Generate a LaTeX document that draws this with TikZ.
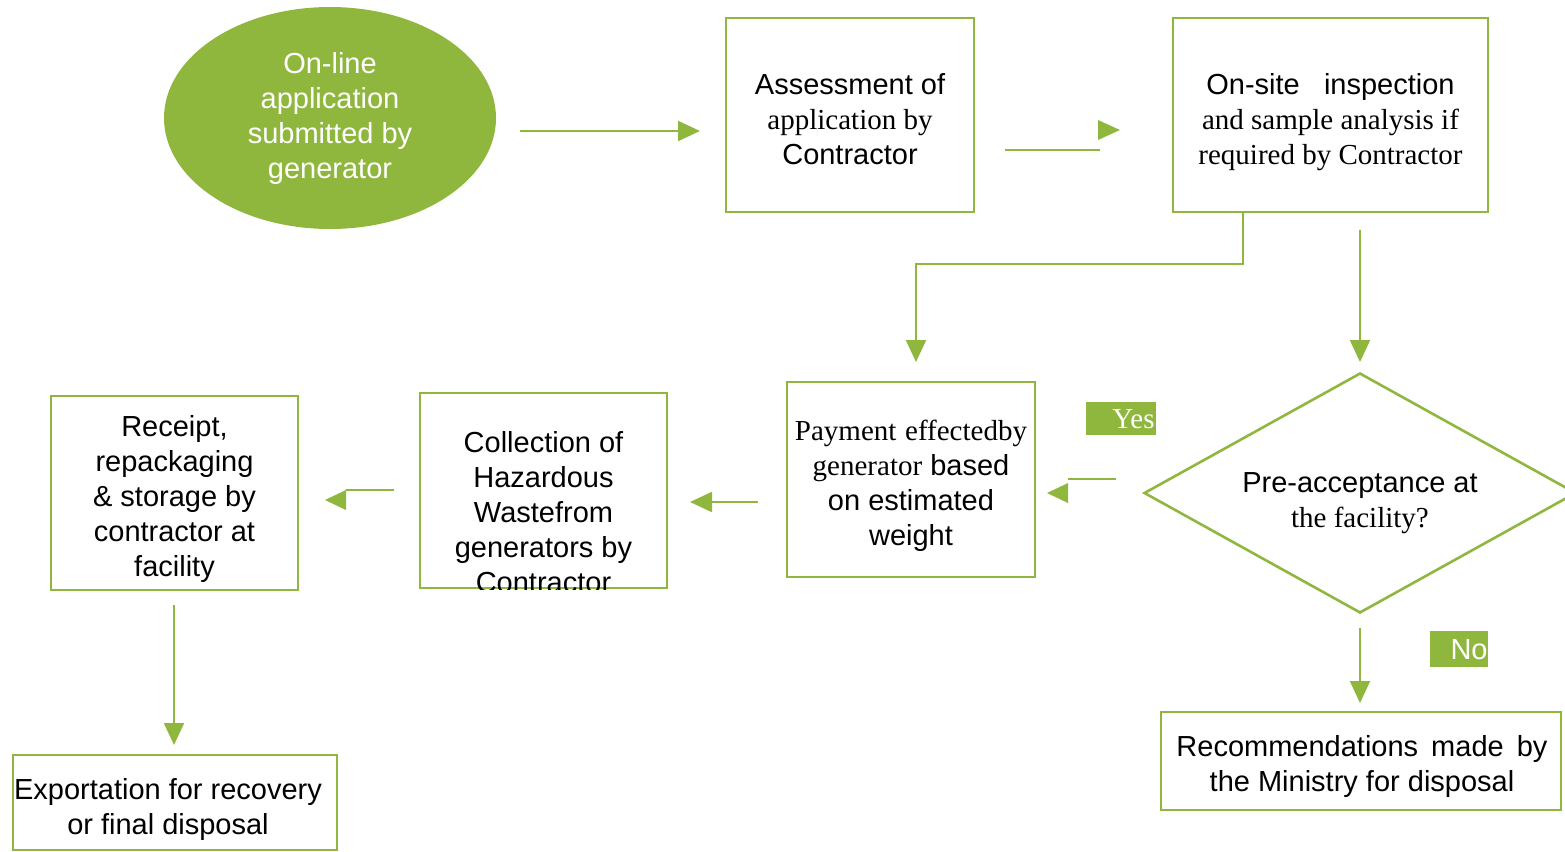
\documentclass[tikz,border=0pt]{standalone}
\usepackage{fontspec}
\setmainfont{Liberation Serif}
\setsansfont{Liberation Sans}
\usetikzlibrary{shapes.geometric,arrows.meta,calc}
\definecolor{grn}{RGB}{143,183,62}
\newcommand{\fsz}{\fontsize{14.5}{17.5}\selectfont}
\tikzset{
  gbox/.style={draw=grn, line width=1.3pt, rectangle, inner sep=0pt, align=center, font=\sffamily\fsz},
  gtext/.style={inner sep=0pt, align=center, font=\sffamily\fsz},
  conn/.style={draw=grn, line width=1.1pt},
  arr/.style={conn, -{Triangle[length=11pt,width=10pt]}},
  lonehead/.style={fill=grn},
  tag/.style={fill=grn, text=white, inner sep=0pt, font=\fsz},
}
\begin{document}
\begin{tikzpicture}[x=0.5pt,y=-0.5pt]
\useasboundingbox (0,0) rectangle (1565,852);

% nodes
\node[ellipse, fill=grn, minimum width=166pt, minimum height=111pt, inner sep=0pt,
      text=white, align=center, font=\sffamily\fsz] (ell) at (330,118)
  {On-line\\application\\submitted by\\generator};

\node[gbox, minimum width=124pt, minimum height=97pt] (assess) at (850,115) {};
\node[gtext] (assesst) at (850,119)
  {Assessment of\\{\rmfamily application by}\\Contractor};

\node[gbox, minimum width=157.5pt, minimum height=97pt] (onsite) at (1330.5,115) {};
\node[gtext] (onsitet) at (1330.5,122)
  {On-site\ \ \ inspection\\{\rmfamily and sample analysis if}\\{\rmfamily required by Contractor}};

\node[diamond, aspect=1.8, draw=grn, line width=1.3pt, minimum width=216pt, minimum height=120pt,
      inner sep=0pt] (dia) at (1360,493) {};
\node[gtext] (diat) at (1360,503) {Pre-acceptance at\\{\rmfamily the facility?}};

\node[gbox, minimum width=124pt, minimum height=97.5pt] (pay) at (911,479.5) {};
\node[gtext] (payt) at (911,485.5)
  {{\rmfamily Payment\hspace{0.3em}effectedby}\\{\rmfamily generator} based\\on estimated\\weight};

\node[gbox, minimum width=123.5pt, minimum height=97.5pt] (coll) at (543.5,490.5) {};
\begin{scope}
  \clip (coll.north west) rectangle (coll.south east);
  \node[gtext] (collt) at (543.5,512)
    {Collection of\\Hazardous\\Wastefrom\\generators by\\Contractor};
\end{scope}

\node[gbox, minimum width=123.5pt, minimum height=97pt] (rec) at (174.5,493) {};
\node[gtext] (rect) at (174.5,499)
  {Receipt,\\repackaging\\\& storage by\\contractor at\\facility};

\node[gbox, minimum width=162pt, minimum height=47.5pt] (exp) at (175,802.5) {};
\node[gtext] (expt) at (168,809) {Exportation for recovery\\or final disposal};

\node[gbox, minimum width=200pt, minimum height=49pt] (recm) at (1361,761) {};
\node[gtext] (recmt) at (1362,766) {Recommendations\hspace{0.45em}made\hspace{0.45em}by\\the Ministry for disposal};

\node[tag, minimum width=35pt, minimum height=16.5pt] (yes) at (1121,418.5) {};
\node[text=white, inner sep=0pt, font=\fsz, anchor=east] (yest) at (1155,419) {Yes};
\node[tag, minimum width=29pt, minimum height=18pt] (no) at (1459,649) {};
\node[text=white, inner sep=0pt, font=\sffamily\fsz, anchor=east] (not) at (1488,650) {No};

% connector coordinates
\coordinate (a1s) at (520,131);   \coordinate (a1e) at (700,131);
\coordinate (a2s) at (1005,150);  \coordinate (a2e) at (1100,150);
\coordinate (a3s) at (1243,212);  \coordinate (a3m1) at (1243,264);
\coordinate (a3m2) at (916,264);  \coordinate (a3e) at (916,362);
\coordinate (a4s) at (1360,230);  \coordinate (a4e) at (1360,362);
\coordinate (a5s) at (1116,479);  \coordinate (a5e) at (1068,479);
\coordinate (a6s) at (758,502);   \coordinate (a6e) at (690,502);
\coordinate (a7s) at (394,490);   \coordinate (a7e) at (346,490);
\coordinate (a8s) at (174,605);   \coordinate (a8e) at (174,745);
\coordinate (a9s) at (1360,628);  \coordinate (a9e) at (1360,703);

% connectors
\draw[arr] (a1s) -- (a1e);
\draw[conn] (a2s) -- (a2e);
\fill[lonehead] (1098,120) -- (1098,140) -- (1120,130) -- cycle;
\draw[arr] (a3s) -- (a3m1) -- (a3m2) -- (a3e);
\draw[arr] (a4s) -- (a4e);
\draw[conn] (a5s) -- (a5e);
\fill[lonehead] (1068,483) -- (1068,503) -- (1047,493) -- cycle;
\draw[arr] (a6s) -- (a6e);
\draw[conn] (a7s) -- (a7e);
\fill[lonehead] (346,490) -- (346,510) -- (325,500) -- cycle;
\draw[arr] (a8s) -- (a8e);
\draw[arr] (a9s) -- (a9e);
\end{tikzpicture}
\end{document}
